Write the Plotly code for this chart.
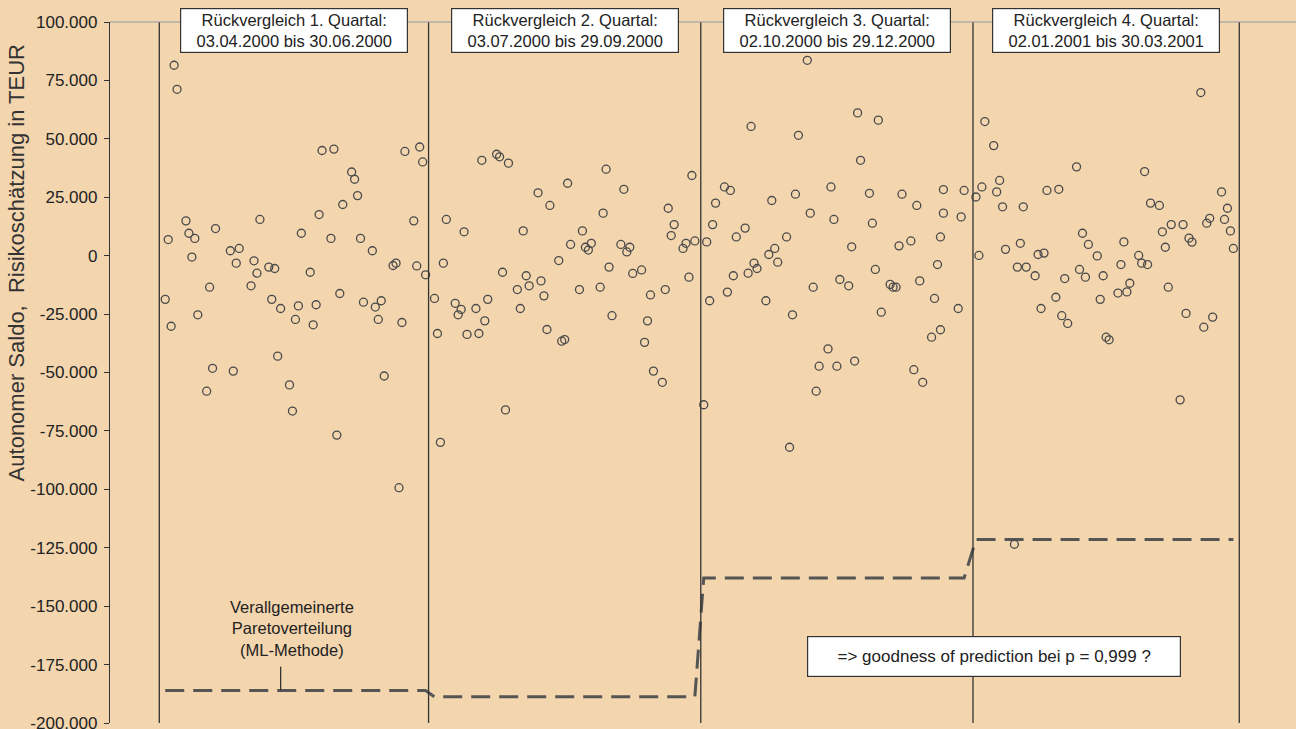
import pandas as pd
import plotly.graph_objects as go

# ---------------- Daten ----------------
# Handelsfreie Tage (TARGET) im Zeitraum
feiertage = ["2000-04-21", "2000-04-24", "2000-05-01", "2000-12-25", "2000-12-26", "2001-01-01"]

quartal_start = ["2000-04-03", "2000-07-03", "2000-10-02", "2001-01-02"]
quartal_ende = ["2000-06-30", "2000-09-29", "2000-12-29", "2001-03-30"]
quartalsgrenzen = ["2000-04-01", "2000-07-01", "2000-10-01", "2001-01-01", "2001-04-01"]

saldo_q1 = [-18700, 6900, -30200, 81500, 71200, 14900, 9600, -600, 7400, -25300,
            -58000, -13500, -48200, 11600, 2100, -49400, -3200, 3100, -12900, -2200,
            -7500, 15500, -4900, -18700, -5500, -43000, -22600, -55300, -66500, -27300,
            -21500, 9600, -7100, -29600, -21000, 17600, 45000, 7400, 45600, -76800,
            -16200, 21900, 35800, 32700, 25700, 7400, -19900, 2100, -22000, -27300,
            -19300, -51500, -4200, -3200, -99300, -28600, 44600, 14900, -4400, 46500,
            40100, -8200]
saldo_q2 = [-18300, -33300, -79900, -3200, 15500, -20400, -25300, -23000, 10200, -33700,
            -22600, -33300, 40800, -27900, -18700, 43400, 42300, -7100, -66000, 39600,
            -14500, -22600, 10600, -8600, -12900, 26900, -10800, -17200, -31600, 21500,
            -2100, -36600, -35900, 31000, 4800, -14500, 10600, 3600, 2400, 5300,
            -13500, 18200, 37000, -4900, -25700, 4800, 28400, 1600, 3600, -7600,
            -6100, -37100, -27900, -16800, -49400, -54200, -14500, 20300, 8600, 13300,
            3100, 5300, -9200, 34300, 6300]
saldo_q3 = [-63800, 5900, -19300, 13300, 22500, 29400, -15600, 27900, -8600, 8000,
            11800, -7500, 55300, -3200, -5500, -19300, 500, 23600, 3100, -2800,
            8000, -82000, -25300, 26300, 51500, 83600, 18200, -13500, -58000, -47300,
            -39900, 29400, 15500, -47300, -10200, -12900, 3800, -45100, 61100, 40800,
            26700, 13900, -5900, 58000, -24200, -12300, -13500, -13500, 4200, 26300,
            6300, -48800, 21500, -10800, -54200, -34900, -18300, -3800, 8000, 28300,
            -22600, 16600, 27900]
saldo_q4 = [25100, 100, 29400, 57400, 47100, 27300, 32200, 20900, 2700, -123500,
            -4900, 5300, 20900, -4900, -8600, 500, -22600, 1100, 27900, -17800,
            28400, -25700, -9800, -29000, 38000, -5900, 9600, -9200, 4800, -100,
            -18700, -8600, -34900, -36000, -16000, -3800, 5900, -15500, -11800, 100,
            -3200, 36000, -3800, 22500, 21500, 10200, 3600, -13500, 13300, -61700,
            13300, -24700, 7500, 5800, 69800, -30600, 13900, 16000, -26300, 27300,
            15500, 20300, 10600, 3100]
# zusätzliche Werte an Tagen mit zwei Beobachtungen
zusatz_datum = ["2000-12-21", "2000-12-22"]
zusatz_saldo = [-31700, 18200]

# Risikoschätzung (GPD, ML-Methode) je Quartal
risiko_quartal = [-186100, -188800, -137900, -121500]

box_titel = ["Rückvergleich 1. Quartal:<br>03.04.2000 bis 30.06.2000",
             "Rückvergleich 2. Quartal:<br>03.07.2000 bis 29.09.2000",
             "Rückvergleich 3. Quartal:<br>02.10.2000 bis 29.12.2000",
             "Rückvergleich 4. Quartal:<br>02.01.2001 bis 30.03.2001"]

y_ticks = list(range(-200000, 100001, 25000))

# ---------------- Aufbereitung ----------------
saldo_quartale = [saldo_q1, saldo_q2, saldo_q3, saldo_q4]
hol = pd.to_datetime(feiertage)
daten, werte, risiko = [], [], []
for s, e, vals, lvl in zip(quartal_start, quartal_ende, saldo_quartale, risiko_quartal):
    tage = [d for d in pd.bdate_range(s, e) if d not in hol]
    for d, v in zip(tage, vals):
        daten.append(d)
        werte.append(v)
        risiko.append(lvl)

pkt_x = daten + list(pd.to_datetime(zusatz_datum))
pkt_y = werte + zusatz_saldo


def de(v):
    s = f"{abs(v):,}".replace(",", ".")
    return ("-" if v < 0 else "") + s


bg = "#F3D5AE"
dark = "#333333"
font_fam = "Liberation Sans, Arial, sans-serif"

fig = go.Figure()
fig.add_trace(go.Scatter(
    x=daten, y=risiko, mode="lines",
    line=dict(color="#555555", width=3, dash="19px,9px"),
    hoverinfo="skip"))
fig.add_trace(go.Scatter(
    x=pkt_x, y=pkt_y, mode="markers",
    marker=dict(symbol="circle-open", size=8, color="#4a4a4a", line=dict(width=1.3))))

shapes = []
for g in quartalsgrenzen:
    shapes.append(dict(type="line", xref="x", yref="paper", x0=g, x1=g, y0=0, y1=1,
                       line=dict(color=dark, width=1.3)))
shapes.append(dict(type="line", xref="paper", yref="paper", x0=0, x1=1, y0=1, y1=1,
                   line=dict(color="#8f9ba6", width=1.2)))
# Zeiger von Beschriftung zur Linie
shapes.append(dict(type="line", xref="x", yref="y", x0="2000-05-12", x1="2000-05-12",
                   y0=-175900, y1=risiko_quartal[0], line=dict(color=dark, width=1.3)))

annotations = []
gr = pd.to_datetime(quartalsgrenzen)
for i, t in enumerate(box_titel):
    mid = gr[i] + (gr[i + 1] - gr[i]) / 2
    annotations.append(dict(
        x=mid, y=1, xref="x", yref="paper", yanchor="middle", xanchor="center",
        yshift=-8.5, text=t, showarrow=False, align="center",
        font=dict(size=16.5, color="#222", family=font_fam),
        bgcolor="white", bordercolor=dark, borderwidth=1.2, borderpad=0,
        width=226, height=43))
annotations.append(dict(
    x="2000-05-16", y=-159500, xref="x", yref="y", text="Verallgemeinerte<br>Paretoverteilung<br>(ML-Methode)",
    showarrow=False, align="center", font=dict(size=16.5, color="#222", family=font_fam)))
annotations.append(dict(
    x="2001-01-08 02:00", y=-171500, xref="x", yref="y",
    text="=> goodness of prediction bei p = 0,999 ?", showarrow=False,
    font=dict(size=17, color="#222", family=font_fam),
    bgcolor="white", bordercolor=dark, borderwidth=1.2, borderpad=0, width=372, height=39))
annotations.append(dict(
    x=0, xref="paper", y=-3300, yref="y", xshift=-94, textangle=-90,
    text="Autonomer Saldo,  Risikoschätzung in TEUR", showarrow=False,
    xanchor="center", yanchor="middle",
    font=dict(size=22, color="#333", family=font_fam)))

fig.update_layout(
    template="none",
    width=1296, height=729,
    margin=dict(l=110, r=0, t=22, b=6),
    paper_bgcolor=bg, plot_bgcolor=bg,
    showlegend=False,
    font=dict(family=font_fam, color="#222"),
    shapes=shapes, annotations=annotations,
    xaxis=dict(type="date", range=["2000-03-15 08:00", "2001-04-20 04:00"], visible=False,
               showgrid=False, zeroline=False, automargin=False),
    yaxis=dict(range=[-200000, 100000], tickvals=y_ticks, ticktext=[de(v) for v in y_ticks],
               ticks="outside", ticklen=5, tickcolor=dark, tickwidth=1.2,
               showline=True, linecolor=dark, linewidth=1.3, showgrid=False, zeroline=False,
               ticklabeloverflow="allow", ticklabelstandoff=3,
               tickfont=dict(size=17, color="#222", family=font_fam), automargin=False),
)

fig.write_html("out.html",
               config={"displayModeBar": False},
               post_script="document.body.style.margin='0';document.body.style.padding='0';"
                           "document.body.style.overflow='hidden';")
